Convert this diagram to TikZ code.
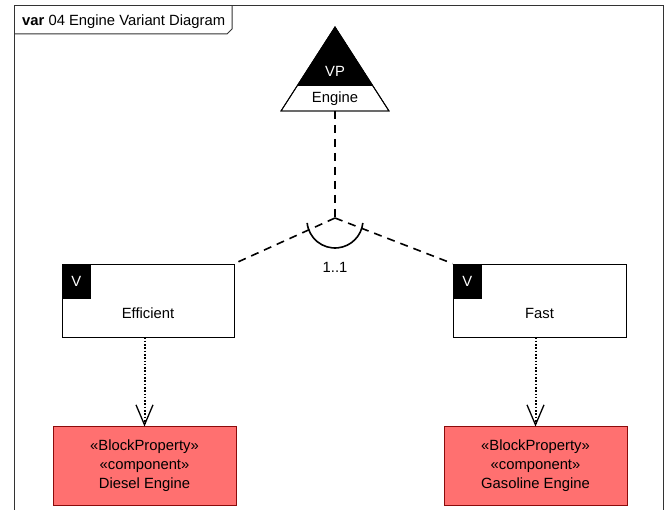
\documentclass[tikz,border=0pt]{standalone}
\usepackage{fontspec}
\setmainfont{Liberation Sans}
\usetikzlibrary{arrows.meta}
\definecolor{blockred}{HTML}{FF7070}
\definecolor{blockborder}{HTML}{8B0A0A}
\begin{document}
\begin{tikzpicture}[x=1pt,y=-1pt,
  every node/.style={font=\fontsize{14.8}{19}\selectfont, inner sep=0pt},
  frameline/.style={draw=black!80, line width=1pt},
  varbox/.style={draw=black, line width=0.9pt, fill=white, minimum width=172pt, minimum height=73pt},
  vmark/.style={fill=black, text=white, minimum width=29pt, minimum height=35pt, anchor=north west},
  blockbox/.style={draw=blockborder, line width=1pt, fill=blockred, minimum width=183pt, minimum height=78pt, align=center},
  dashline/.style={line width=1.6pt, dash pattern=on 8pt off 6pt},
  dotline/.style={line width=2pt, dash pattern=on 1.6pt off 1.7pt, -{Straight Barb[length=20pt,width=17pt,line width=1.3pt]}}
]
\useasboundingbox (0,0) rectangle (667,510);
% frame
\draw[frameline] (14,512) -- (14,6) -- (663,6) -- (663,512);
\draw[frameline] (14,34) -- (227,34) -- (232,29) -- (232,6);
\node[anchor=west] (title) at (22,22) {\textbf{var} 04 Engine Variant Diagram};
% variation point triangle
\coordinate (apex) at (335,27);
\coordinate (vpbase) at (335,111);
\draw[fill=white, line width=0.9pt] (apex) -- (281,111) -- (389,111) -- cycle;
\fill[black] (apex) -- (297.1,86) -- (372.9,86) -- cycle;
\draw[line width=0.9pt] (apex) -- (281,111) -- (389,111) -- cycle;
\node[text=white] (vp) at (335,71) {VP};
\node (engine) at (335,99) {Engine};
% variants
\node[varbox] (eff) at (148,300.5) {};
\node[vmark] (effv) at (eff.north west) {V};
\node (efftext) at (148,313) {Efficient};
\node[varbox, minimum width=173pt] (fast) at (539.5,300.5) {};
\node[vmark] (fastv) at (fast.north west) {V};
\node (fasttext) at (539.5,313) {Fast};
% junction
\coordinate (j) at (335,218);
\coordinate (arcc) at (335,220);
\draw[dashline] (vpbase) -- (j);
\draw[dashline] (j) -- (eff.north east);
\draw[dashline] (j) -- (fast.north west);
\draw[line width=1.6pt] ([shift={(174:28)}]arcc) arc[start angle=174, end angle=6, radius=28];
\node (mult) at (335,267) {1..1};
% blocks
\node[blockbox] (diesel) at (144.5,466) {«BlockProperty»\\«component»\\Diesel Engine};
\node[blockbox] (gas) at (535.5,466) {«BlockProperty»\\«component»\\Gasoline Engine};
\draw[dotline] (diesel.north |- eff.south) -- (diesel.north);
\draw[dotline] (gas.north |- fast.south) -- (gas.north);
\end{tikzpicture}
\end{document}
